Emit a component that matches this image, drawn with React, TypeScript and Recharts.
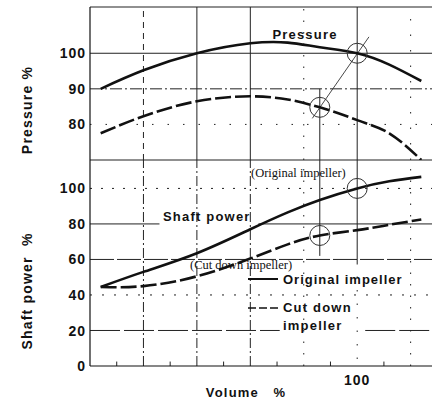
import React from 'react';
import { LineChart, Line, XAxis, YAxis, ReferenceLine, ReferenceDot } from 'recharts';

// ---- data ----
const volume = [52, 60, 70, 80, 87, 93, 100, 106, 112];
const pressureOriginal = [90, 95.2, 100, 102.8, 103, 101.7, 100, 96.8, 92.2];
const pressureCutDown = [77.5, 82.3, 86.5, 87.9, 87, 84.8, 81.2, 77.5, 70];
const powerOriginal = [44.5, 53, 63.5, 77, 86.5, 93.5, 100, 104, 106.5];
const powerCutDown = [44.5, 45, 50.5, 60.5, 68.5, 73.5, 76.5, 79.5, 82.5];

const pressureTicks = [70, 80, 90, 100];
const powerTicks = [0, 20, 40, 60, 80, 100];
const volumeTicks = [100];
const minorVolumeTicks = [55, 65, 75, 85, 95, 105];

// operating points
const originalPoint = { v: 100, p: 100, w: 100 };
const cutPoint = { v: 93, p: 84.8, w: 73.5 };
// thin similarity line through the two pressure points
const similarityLine = [{ x: 91.6, y: 81.7 }, { x: 102.2, y: 104.6 }];

const topData = volume.map((v, i) => ({ v, po: pressureOriginal[i], pc: pressureCutDown[i] }));
const bottomData = volume.map((v, i) => ({ v, wo: powerOriginal[i], wc: powerCutDown[i] }));

const X_DOMAIN: [number, number] = [50, 114];
const P_DOMAIN: [number, number] = [70, 113];
const W_DOMAIN: [number, number] = [0, 116];

const SANS = '"Liberation Sans", Arial, Helvetica, sans-serif';
const SERIF = '"Liberation Serif", "Times New Roman", serif';
const INK = '#111';

const YTick = (props: any) => (
  <text
    x={props.x}
    y={props.y}
    dy="0.36em"
    textAnchor="end"
    fontFamily={SANS}
    fontWeight="bold"
    fontSize={14}
    fill={INK}
    style={{ letterSpacing: '1px' }}
  >
    {props.payload.value}
  </text>
);

const XTick = (props: any) => (
  <text
    x={props.x}
    y={props.y}
    dy="0.9em"
    textAnchor="middle"
    fontFamily={SANS}
    fontWeight="bold"
    fontSize={14}
    fill={INK}
    style={{ letterSpacing: '1px' }}
  >
    {props.payload.value}
  </text>
);

const gridProps = { stroke: '#222', strokeWidth: 1, ifOverflow: 'visible' as const };

export default function App() {
  return (
    <div style={{ position: 'absolute', left: 0, top: 0, width: 432, height: 405, background: '#fff' }}>
      {/* Pressure panel */}
      <div style={{ position: 'absolute', left: 0, top: 0 }}>
        <LineChart width={432} height={165} data={topData} margin={{ top: 7, right: 0, bottom: 5, left: 0 }}>
          <XAxis dataKey="v" type="number" domain={X_DOMAIN} hide allowDataOverflow />
          <YAxis
            type="number"
            domain={P_DOMAIN}
            ticks={pressureTicks}
            width={90}
            allowDataOverflow
            tickLine={false}
            tickSize={2}
            tickMargin={2}
            axisLine={{ stroke: INK, strokeWidth: 1.2 }}
            tick={YTick}
          />
          {/* horizontal grid */}
          <ReferenceLine y={113} {...gridProps} strokeWidth={1.2} />
          <ReferenceLine y={100} {...gridProps} />
          <ReferenceLine y={90} {...gridProps} strokeDasharray="12 3 2 3" />
          <ReferenceLine y={80} {...gridProps} strokeDasharray="1.5 14" />
          <ReferenceLine y={70} {...gridProps} strokeWidth={1.2} />
          {/* vertical grid */}
          <ReferenceLine x={60} {...gridProps} strokeDasharray="6 5" />
          <ReferenceLine x={70} {...gridProps} />
          <ReferenceLine x={80} {...gridProps} />
          <ReferenceLine x={90} {...gridProps} strokeDasharray="1.5 10" />
          <ReferenceLine x={100} {...gridProps} />
          <ReferenceLine x={110} {...gridProps} strokeDasharray="1.5 14" />
          <ReferenceLine
            segment={[{ x: cutPoint.v, y: 90 }, { x: cutPoint.v, y: 70 }]}
            {...gridProps}
          />
          <ReferenceLine segment={similarityLine} stroke="#333" strokeWidth={0.9} ifOverflow="visible" />
          <Line
            dataKey="po"
            type="natural"
            stroke={INK}
            strokeWidth={2.6}
            dot={false}
            isAnimationActive={false}
          />
          <Line
            dataKey="pc"
            type="monotone"
            stroke={INK}
            strokeWidth={2.6}
            strokeDasharray="16 4"
            dot={false}
            isAnimationActive={false}
          />
          <ReferenceDot x={originalPoint.v} y={originalPoint.p} r={10} fill="none" stroke="#333" strokeWidth={1} ifOverflow="visible" />
          <ReferenceDot x={cutPoint.v} y={cutPoint.p} r={10} fill="none" stroke="#333" strokeWidth={1} ifOverflow="visible" />
        </LineChart>
      </div>

      {/* Shaft power panel */}
      <div style={{ position: 'absolute', left: 0, top: 160 }}>
        <LineChart width={432} height={246} data={bottomData} margin={{ top: 0, right: 0, bottom: 0, left: 0 }}>
          <XAxis
            dataKey="v"
            type="number"
            domain={X_DOMAIN}
            ticks={volumeTicks}
            allowDataOverflow
            height={40}
            tickLine={false}
            tickSize={4}
            tickMargin={2}
            axisLine={{ stroke: INK, strokeWidth: 1.2 }}
            tick={XTick}
          />
          <YAxis
            type="number"
            domain={W_DOMAIN}
            ticks={powerTicks}
            width={90}
            allowDataOverflow
            tickLine={false}
            tickSize={2}
            tickMargin={2}
            axisLine={{ stroke: INK, strokeWidth: 1.2 }}
            tick={YTick}
          />
          {/* horizontal grid */}
          <ReferenceLine y={100} {...gridProps} strokeDasharray="2 9" />
          <ReferenceLine segment={[{ x: 50, y: 80 }, { x: 63, y: 80 }]} {...gridProps} />
          <ReferenceLine segment={[{ x: 81.5, y: 80 }, { x: 114, y: 80 }]} {...gridProps} />
          <ReferenceLine y={60} {...gridProps} strokeDasharray="24 3" />
          <ReferenceLine y={40} {...gridProps} strokeDasharray="2 10" />
          <ReferenceLine segment={[{ x: 50, y: 20 }, { x: 85.5, y: 20 }]} {...gridProps} strokeDasharray="30 4" />
          <ReferenceLine segment={[{ x: 101.5, y: 20 }, { x: 114, y: 20 }]} {...gridProps} strokeDasharray="30 4" />
          {/* vertical grid */}
          <ReferenceLine x={60} {...gridProps} strokeDasharray="10 3 2 3" />
          <ReferenceLine x={70} {...gridProps} strokeDasharray="10 3 2 3" />
          <ReferenceLine x={80} {...gridProps} strokeDasharray="10 3 2 3" />
          <ReferenceLine x={90} {...gridProps} strokeDasharray="1.5 10" />
          <ReferenceLine segment={[{ x: 100, y: 116 }, { x: 100, y: 58 }]} {...gridProps} />
          <ReferenceLine segment={[{ x: 100, y: 58 }, { x: 100, y: 0 }]} {...gridProps} strokeDasharray="1.5 12" />
          <ReferenceLine x={110} {...gridProps} strokeDasharray="1.5 10" />
          <ReferenceLine segment={[{ x: cutPoint.v, y: 116 }, { x: cutPoint.v, y: 62 }]} {...gridProps} />
          {minorVolumeTicks.map((t) => (
            <ReferenceLine key={t} segment={[{ x: t, y: 0 }, { x: t, y: 2.5 }]} {...gridProps} />
          ))}
          <Line
            dataKey="wo"
            type="natural"
            stroke={INK}
            strokeWidth={2.6}
            dot={false}
            isAnimationActive={false}
          />
          <Line
            dataKey="wc"
            type="natural"
            stroke={INK}
            strokeWidth={2.6}
            strokeDasharray="16 4"
            dot={false}
            isAnimationActive={false}
          />
          <ReferenceDot x={originalPoint.v} y={originalPoint.w} r={10} fill="none" stroke="#333" strokeWidth={1} ifOverflow="visible" />
          <ReferenceDot x={cutPoint.v} y={cutPoint.w} r={10} fill="none" stroke="#333" strokeWidth={1} ifOverflow="visible" />
        </LineChart>
      </div>

      {/* annotations */}
      <svg
        width={432}
        height={405}
        style={{ position: 'absolute', left: 0, top: 0, pointerEvents: 'none' }}
      >
        <g fontFamily={SANS} fontWeight="bold" fill={INK}>
          <text x={27} y={110} transform="rotate(-90 27 110)" textAnchor="middle" dy="0.36em" fontSize={14} style={{ letterSpacing: '1.2px' }}>
            Pressure %
          </text>
          <text x={27} y={291} transform="rotate(-90 27 291)" textAnchor="middle" dy="0.36em" fontSize={14} style={{ letterSpacing: '1.2px' }} xmlSpace="preserve">
            {'Shaft power  %'}
          </text>
          <text x={305} y={39} textAnchor="middle" fontSize={13} style={{ letterSpacing: '1.2px' }}>
            Pressure
          </text>
          <text x={163} y={221} fontSize={13} style={{ letterSpacing: '1.2px' }}>
            Shaft power
          </text>
          <line x1={248} y1={279} x2={278} y2={279} stroke={INK} strokeWidth={2} />
          <text x={283} y={284} fontSize={13} style={{ letterSpacing: '1px' }}>
            Original impeller
          </text>
          <line x1={248} y1={308} x2={278} y2={308} stroke={INK} strokeWidth={1.5} strokeDasharray="8 3" />
          <text x={283} y={312} fontSize={13} style={{ letterSpacing: '1.2px' }}>
            Cut down
          </text>
          <text x={283} y={330} fontSize={13} style={{ letterSpacing: '1.2px' }}>
            impeller
          </text>
          <text x={246} y={397} textAnchor="middle" fontSize={13} style={{ letterSpacing: '1.2px' }} xmlSpace="preserve">
            {'Volume   %'}
          </text>
        </g>
        <g fontFamily={SERIF} fill={INK} fontSize={12.5}>
          <text x={251} y={177}>(Original impeller)</text>
          <text x={190} y={269}>(Cut down impeller)</text>
        </g>
      </svg>
    </div>
  );
}
